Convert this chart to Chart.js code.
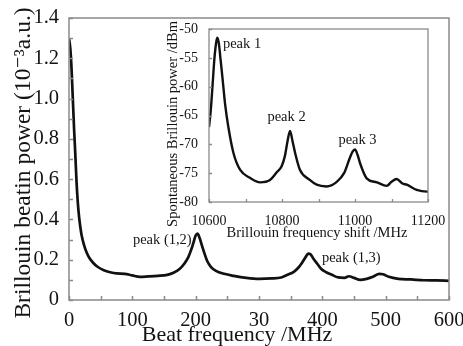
<!DOCTYPE html>
<html><head><meta charset="utf-8">
<script src="https://cdn.jsdelivr.net/npm/chart.js@4/dist/chart.umd.min.js"></script>
<style>
html,body{margin:0;padding:0;background:#fff;}
#wrap{position:relative;width:463px;height:346px;overflow:hidden;}
#main{position:absolute;left:0;top:0;}
#inset{position:absolute;left:150px;top:18px;}
</style></head><body>
<div id="wrap"><canvas id="main" width="463" height="346"></canvas><canvas id="inset" width="300" height="235"></canvas></div>
<script>
// ---- Main chart data (beat spectrum) ----
const beatFreq = [0,2,4,6,8,10,12,14,16,18,20,24,28,32,38,45,55,65,75,88,100,112,125,140,155,165,175,182,188,193,197,200,203,206,210,214,218,224,232,245,260,280,300,320,335,345,355,362,368,373,378,381,386,392,398,405,415,425,435,442,450,460,470,480,490,496,505,520,540,560,580,600];
const beatPower = [1.30,1.25,1.15,1.00,0.85,0.72,0.58,0.48,0.41,0.36,0.32,0.27,0.235,0.21,0.185,0.165,0.148,0.138,0.132,0.13,0.122,0.115,0.117,0.12,0.125,0.135,0.155,0.18,0.21,0.25,0.29,0.32,0.33,0.31,0.27,0.23,0.195,0.165,0.145,0.13,0.12,0.11,0.105,0.107,0.112,0.125,0.14,0.16,0.185,0.21,0.23,0.228,0.205,0.18,0.155,0.14,0.125,0.112,0.11,0.118,0.11,0.10,0.105,0.115,0.13,0.128,0.115,0.105,0.102,0.098,0.097,0.095];
const mainXTickValues = [0,100,200,300,400,500,600];
const mainXTickLabels = ['0','100','200','30','400','500','600'];
const mainYTickValues = [0,0.2,0.4,0.6,0.8,1.0,1.2,1.4];
const mainYTickLabels = ['0','0.2','0.4','0.6','0.8','1.0','1.2','1.4'];
const mainXTitle = 'Beat frequency /MHz';
const mainYTitle = 'Brillouin beatin power (10\u207B\u00B3a.u.)';
const mainPeakLabels = ['peak (1,2)','peak (1,3)'];
const mainPeakAt = [[200,0.33],[378,0.23]];

// ---- Inset data (spontaneous Brillouin spectrum) ----
const shiftFreq = [10600,10605,10610,10615,10620,10623,10627,10632,10637,10644,10653,10667,10685,10712,10740,10767,10785,10799,10808,10815,10822,10829,10836,10849,10877,10895,10922,10950,10970,10985,10993,11000,11007,11014,11032,11060,11087,11100,11114,11130,11142,11169,11197,11200];
const shiftPower = [-67,-64,-59.5,-55,-52.2,-51.5,-52.5,-55.5,-58.5,-63,-67,-71.5,-74.4,-75.8,-76.6,-76.2,-74.9,-73.8,-72,-69.5,-67.7,-69.5,-71.5,-74.4,-76.2,-77.0,-77.3,-76.5,-75,-72.5,-71.3,-70.9,-71.8,-73.3,-75.9,-76.6,-77.2,-76.5,-76.0,-76.8,-77.0,-77.9,-78.2,-78.2];
const insetXTickValues = [10600,10800,11000,11200];
const insetXTickLabels = ['10600','10800','11000','11200'];
const insetYTickValues = [-80,-75,-70,-65,-60,-55,-50];
const insetYTickLabels = ['-80','-75','-70','-65','-60','-55','-50'];
const insetXTitle = 'Brillouin frequency shift /MHz';
const insetYTitle = 'Spontaneous Brillouin power /dBm';
const insetPeakLabels = ['peak 1','peak 2','peak 3'];
const insetPeakAt = [[10623,-51.5],[10822,-67.7],[11000,-70.9]];

const SERIF = "'Liberation Serif','DejaVu Serif',serif";
const INK = '#141414';

function labelFor(values, labels){
  return v => { const i = values.findIndex(t => Math.abs(t - v) < 1e-6); return i >= 0 ? labels[i] : ''; };
}

const decor = {
  id: 'decor',
  afterDraw(chart, args, o){
    const {ctx, chartArea: a, scales: {x, y}} = chart;
    ctx.save();
    ctx.strokeStyle = o.frameColor; ctx.lineWidth = o.frameWidth;
    ctx.strokeRect(a.left, a.top, a.right - a.left, a.bottom - a.top);
    ctx.beginPath();
    x.ticks.forEach(t => { const p = Math.round(x.getPixelForValue(t.value)) + 0.5; ctx.moveTo(p, a.bottom); ctx.lineTo(p, a.bottom - o.tick); });
    y.ticks.forEach(t => { const p = Math.round(y.getPixelForValue(t.value)) + 0.5; ctx.moveTo(a.left, p); ctx.lineTo(a.left + o.tick, p); });
    ctx.stroke();
    ctx.fillStyle = INK;
    ctx.textAlign = 'center'; ctx.textBaseline = 'middle';
    ctx.font = o.xTitleFont;
    ctx.fillText(o.xTitle, o.xTitlePos[0], o.xTitlePos[1]);
    ctx.save();
    ctx.font = o.yTitleFont;
    ctx.translate(o.yTitlePos[0], o.yTitlePos[1]); ctx.rotate(-Math.PI/2);
    ctx.fillText(o.yTitle, 0, 0);
    ctx.restore();
    ctx.font = o.peakFont;
    o.peaks.forEach(pk => {
      const px = x.getPixelForValue(pk.at[0]) + pk.dx;
      const py = y.getPixelForValue(pk.at[1]) + pk.dy;
      ctx.textAlign = pk.align; ctx.textBaseline = 'middle';
      ctx.fillText(pk.text, px, py);
    });
    ctx.restore();
  }
};

function fixX(h){ return s => { s.height = h; s.paddingLeft = 0; s.paddingRight = 0; }; }
function fixY(w){ return s => { s.width = w; s.paddingTop = 0; s.paddingBottom = 0; }; }

new Chart(document.getElementById('main'), {
  type: 'line',
  data: { datasets: [{
    data: beatFreq.map((f, i) => ({x: f, y: beatPower[i]})),
    borderColor: '#111', borderWidth: 2.7, pointRadius: 0, cubicInterpolationMode: 'monotone', fill: false
  }]},
  options: {
    responsive: false, animation: false, devicePixelRatio: 1,
    layout: { padding: { top: 18, right: 14, left: 0, bottom: 0 } },
    plugins: {
      legend: { display: false }, tooltip: { enabled: false },
      decor: {
        frameColor: '#8a8a8a', frameWidth: 1.5, tick: 4,
        xTitleFont: '22px ' + SERIF, yTitleFont: '23.5px ' + SERIF, peakFont: '14.5px ' + SERIF,
        xTitle: mainXTitle, xTitlePos: [237, 335],
        yTitle: mainYTitle, yTitlePos: [24, 163],
        peaks: [
          {text: mainPeakLabels[0], at: mainPeakAt[0], dx: -4, dy: 6.5, align: 'right'},
          {text: mainPeakLabels[1], at: mainPeakAt[1], dx: 13.5, dy: 4.5, align: 'left'}
        ]
      }
    },
    scales: {
      x: { type: 'linear', min: 0, max: 600,
        grid: { display: false }, border: { display: false },
        ticks: { stepSize: 50, autoSkip: false, maxRotation: 0, padding: 0, color: INK,
          font: { family: SERIF, size: 20.5 }, callback: labelFor(mainXTickValues, mainXTickLabels) },
        afterFit: fixX(46) },
      y: { type: 'linear', min: 0, max: 1.4,
        grid: { display: false }, border: { display: false },
        ticks: { stepSize: 0.1, autoSkip: false, padding: 2, color: INK,
          font: { family: SERIF, size: 20.5 }, callback: labelFor(mainYTickValues, mainYTickLabels) },
        afterFit: fixY(69) }
    }
  },
  plugins: [decor]
});

new Chart(document.getElementById('inset'), {
  type: 'line',
  data: { datasets: [{
    data: shiftFreq.map((f, i) => ({x: f, y: shiftPower[i]})),
    borderColor: '#111', borderWidth: 2.4, pointRadius: 0, cubicInterpolationMode: 'monotone', fill: false
  }]},
  options: {
    responsive: false, animation: false, devicePixelRatio: 1,
    layout: { padding: { top: 11, right: 22, left: 0, bottom: 0 } },
    plugins: {
      legend: { display: false }, tooltip: { enabled: false },
      decor: {
        frameColor: '#8a8a8a', frameWidth: 1.3, tick: 3,
        xTitleFont: '14.5px ' + SERIF, yTitleFont: '14.5px ' + SERIF, peakFont: '14.5px ' + SERIF,
        xTitle: insetXTitle, xTitlePos: [167, 215],
        yTitle: insetYTitle, yTitlePos: [23, 106],
        peaks: [
          {text: insetPeakLabels[0], at: insetPeakAt[0], dx: 5.5, dy: 6.5, align: 'left'},
          {text: insetPeakLabels[1], at: insetPeakAt[1], dx: -3.5, dy: -14, align: 'center'},
          {text: insetPeakLabels[2], at: insetPeakAt[2], dx: 2.5, dy: -9.5, align: 'center'}
        ]
      }
    },
    scales: {
      x: { type: 'linear', min: 10600, max: 11200,
        grid: { display: false }, border: { display: false },
        ticks: { stepSize: 100, autoSkip: false, maxRotation: 0, padding: 3, color: INK,
          font: { family: SERIF, size: 14 }, callback: labelFor(insetXTickValues, insetXTickLabels) },
        afterFit: fixX(51) },
      y: { type: 'linear', min: -80, max: -50,
        grid: { display: false }, border: { display: false },
        ticks: { stepSize: 5, autoSkip: false, padding: 3, color: INK,
          font: { family: SERIF, size: 14 }, callback: labelFor(insetYTickValues, insetYTickLabels) },
        afterFit: fixY(59) }
    }
  },
  plugins: [decor]
});
</script>
</body></html>
